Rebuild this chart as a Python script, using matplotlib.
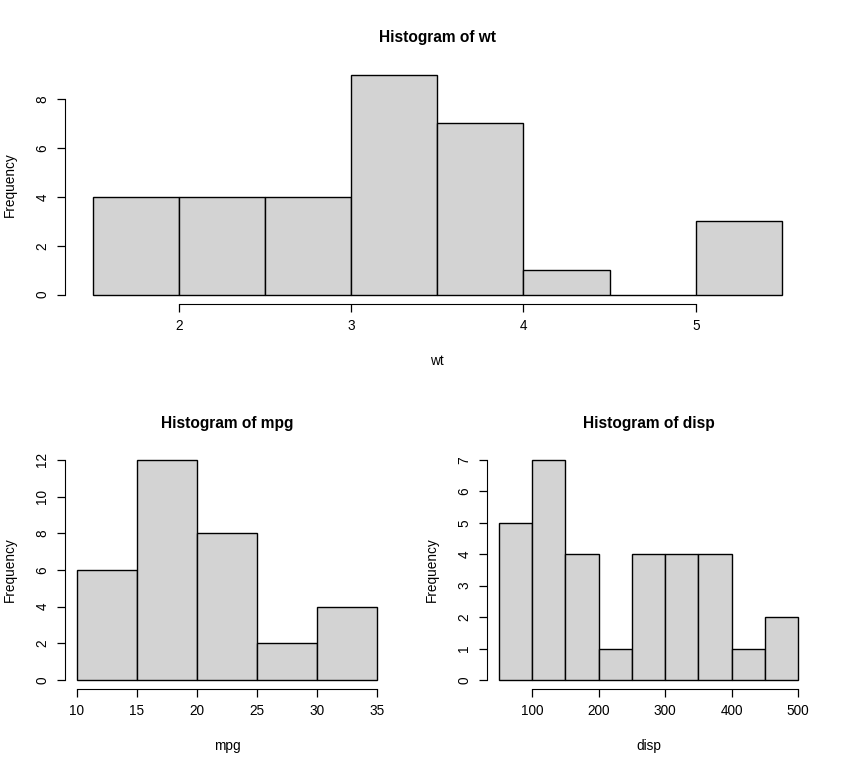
import numpy as np
import matplotlib
matplotlib.use('Agg')
import matplotlib.pyplot as plt

plt.rcParams['font.family'] = ['Liberation Sans', 'DejaVu Sans']

# histogram data (bin edges + counts)
wt_edges = [1.5, 2.0, 2.5, 3.0, 3.5, 4.0, 4.5, 5.0, 5.5]
wt_counts = [4, 4, 4, 9, 7, 1, 0, 3]
wt_xticks = [2, 3, 4, 5]
wt_yticks = [0, 2, 4, 6, 8]

mpg_edges = [10, 15, 20, 25, 30, 35]
mpg_counts = [6, 12, 8, 2, 4]
mpg_xticks = [10, 15, 20, 25, 30, 35]
mpg_yticks = [0, 2, 4, 6, 8, 10, 12]

disp_edges = [50, 100, 150, 200, 250, 300, 350, 400, 450, 500]
disp_counts = [5, 7, 4, 1, 4, 4, 4, 1, 2]
disp_xticks = [100, 200, 300, 400, 500]
disp_yticks = [0, 1, 2, 3, 4, 5, 6, 7]


def r_hist(ax, edges, counts, xticks, yticks, name):
    edges = np.asarray(edges, dtype=float)
    ax.bar(edges[:-1], counts, width=np.diff(edges), align='edge',
           color='#D3D3D3', edgecolor='black', linewidth=1.0)
    # R style 4% axis extension
    x0, x1 = edges[0], edges[-1]
    dx = (x1 - x0) * 0.04
    ax.set_xlim(x0 - dx, x1 + dx)
    ymax = max(counts)
    ax.set_ylim(-ymax * 0.04, ymax * 1.04)
    ax.set_xticks(xticks)
    ax.set_yticks(yticks)
    ax.set_yticklabels([str(v) for v in yticks], rotation=90, va='center')
    for s in ['top', 'right']:
        ax.spines[s].set_visible(False)
    ax.spines['bottom'].set_bounds(xticks[0], xticks[-1])
    ax.spines['left'].set_bounds(yticks[0], yticks[-1])
    ax.tick_params(length=5.8, width=0.9, labelsize=9.8, pad=5.5)
    ax.set_title('Histogram of ' + name, fontsize=11.2, fontweight='bold', pad=17)
    ax.set_xlabel(name, fontsize=9.8, labelpad=15)
    ax.set_ylabel('Frequency', fontsize=9.8, labelpad=13)


fig = plt.figure(figsize=(8.44, 7.70), dpi=100)
ax1 = fig.add_axes([0.0770, 0.6058, 0.8822, 0.3088])
ax2 = fig.add_axes([0.0770, 0.1055, 0.3839, 0.3086])
ax3 = fig.add_axes([0.5770, 0.1055, 0.3827, 0.3086])

r_hist(ax1, wt_edges, wt_counts, wt_xticks, wt_yticks, 'wt')
r_hist(ax2, mpg_edges, mpg_counts, mpg_xticks, mpg_yticks, 'mpg')
r_hist(ax3, disp_edges, disp_counts, disp_xticks, disp_yticks, 'disp')

fig.savefig('out.png', dpi=100)
